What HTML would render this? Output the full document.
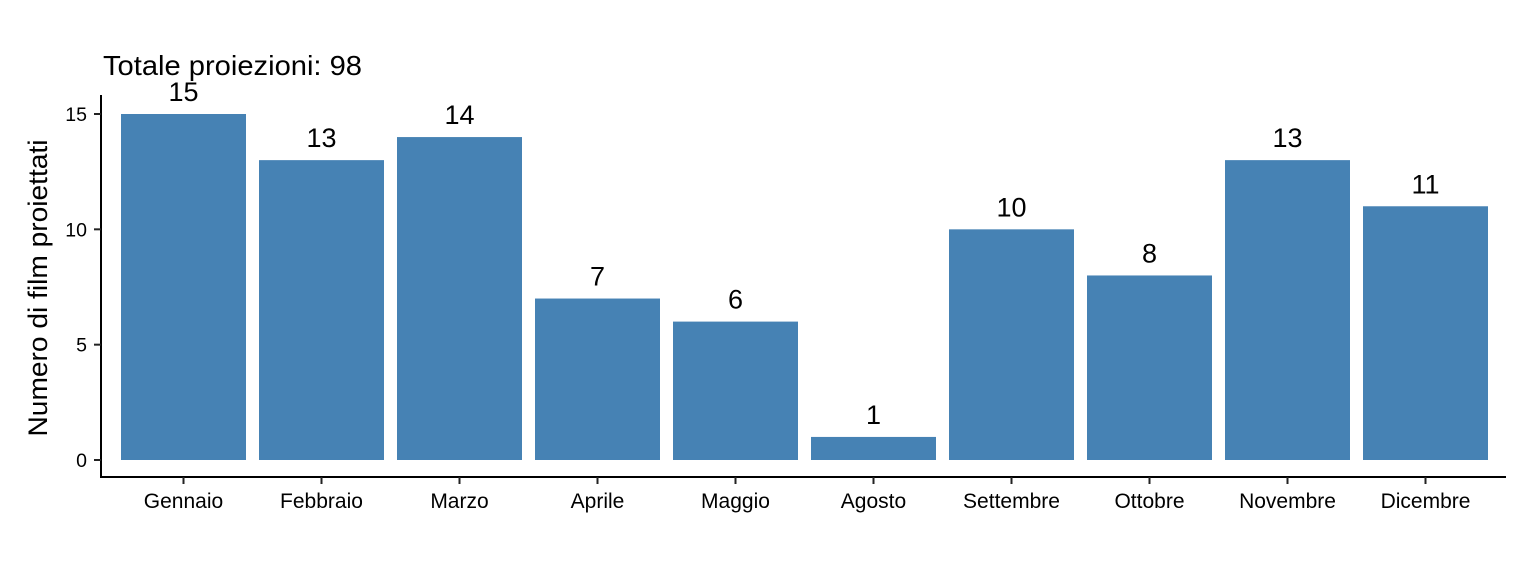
<!DOCTYPE html>
<html><head><meta charset="utf-8"><style>
body{margin:0;background:#fff}
svg{display:block;font-family:"Liberation Sans",Arial,sans-serif}
</style></head><body>
<svg id="chart" width="1536" height="576" viewBox="0 0 1536 576" xmlns="http://www.w3.org/2000/svg">
<rect width="1536" height="576" fill="#fff"/>
<text x="103" y="75" font-size="28" textLength="259" lengthAdjust="spacingAndGlyphs" fill="#000">Totale proiezioni: 98</text>
<text transform="translate(47,288) rotate(-90)" text-anchor="middle" font-size="27" textLength="297" lengthAdjust="spacingAndGlyphs" fill="#000">Numero di film proiettati</text>
<g id="bars"></g><g id="yaxis"></g><g id="xaxis"></g>
</svg>
<script>
const categories = ["Gennaio","Febbraio","Marzo","Aprile","Maggio","Agosto","Settembre","Ottobre","Novembre","Dicembre"];
const values = [15,13,14,7,6,1,10,8,13,11];
const yTicks = [0,5,10,15];

const NS = "http://www.w3.org/2000/svg";
const y0 = 460, yUnit = 346/15;
const yScale = v => y0 - v*yUnit;
const step = 138, x0 = 183.5, barW = 125;
const xScale = i => x0 + step*i;
function mk(tag, attrs, parent, text){
  const e = document.createElementNS(NS, tag);
  for (const k in attrs) e.setAttribute(k, attrs[k]);
  if (text !== undefined) e.textContent = text;
  parent.appendChild(e); return e;
}
const gb = document.getElementById("bars"), gy = document.getElementById("yaxis"), gx = document.getElementById("xaxis");
values.forEach((v,i)=>{
  const r = mk("rect",{x:xScale(i)-barW/2,y:yScale(v),width:barW,height:y0-yScale(v),fill:"#4682b4"},gb);
  
  
  const t = mk("text",{x:xScale(i),y:yScale(v)-13,"text-anchor":"middle","font-size":"27",fill:"#000"},gb,String(v));
  
  
});
const ya = mk("line",{x1:101,y1:95,x2:101,y2:478,stroke:"#000","stroke-width":2},gy);


yTicks.forEach(v=>{
  mk("line",{x1:94,y1:yScale(v),x2:101,y2:yScale(v),stroke:"#222","stroke-width":2},gy);
  const t = mk("text",{x:87,y:yScale(v)+7,"text-anchor":"end","font-size":"19.5",fill:"#000"},gy,String(v));
  
  
});
const xa = mk("line",{x1:100,y1:477,x2:1506,y2:477,stroke:"#000","stroke-width":2},gx);


categories.forEach((c,i)=>{
  mk("line",{x1:xScale(i),y1:477,x2:xScale(i),y2:484,stroke:"#222","stroke-width":2},gx);
  const t = mk("text",{x:xScale(i),y:508,"text-anchor":"middle","font-size":"21",fill:"#000"},gx,c);
  
  
});
</script>
</body></html>
